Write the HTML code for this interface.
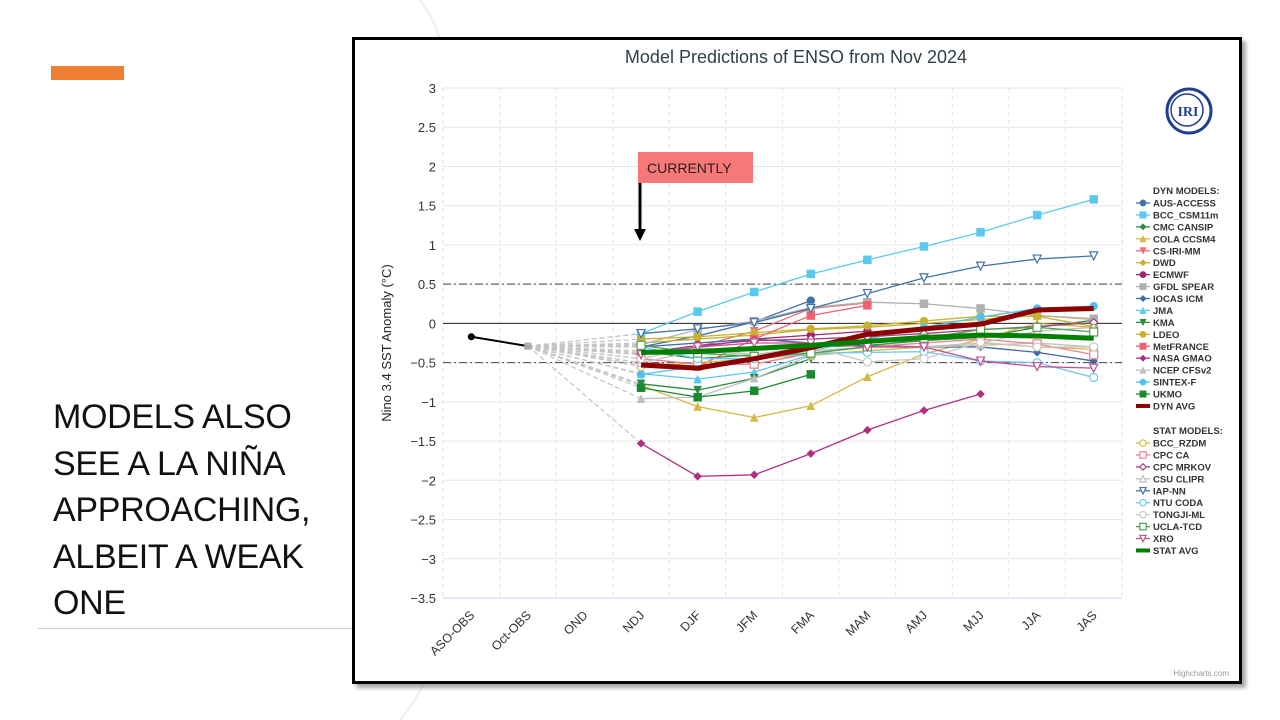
<!DOCTYPE html>
<html><head><meta charset="utf-8">
<style>
html,body{margin:0;padding:0;background:#fff;}
body{width:1280px;height:720px;position:relative;overflow:hidden;font-family:"Liberation Sans",sans-serif;}
#bar{position:absolute;left:51px;top:66px;width:73px;height:14px;background:#ef8033;}
#headline{position:absolute;left:53px;top:394px;font-size:34px;line-height:46.5px;color:#111;letter-spacing:-0.3px;}
#rule{position:absolute;left:38px;top:628px;width:316px;height:1px;background:#ccc;}
#frame{position:absolute;left:352px;top:37px;width:884px;height:641px;border:3px solid #000;background:#fff;box-shadow:4px 4px 4px rgba(0,0,0,0.35);}
svg{position:absolute;left:0;top:0;}
</style></head>
<body>
<svg width="1280" height="720"><path d="M420 0 Q470 60 470 360 Q470 640 400 720" fill="none" stroke="#eee" stroke-width="2"/></svg>
<div id="bar"></div>
<div id="headline">MODELS ALSO<br>SEE A LA NIÑA<br>APPROACHING,<br>ALBEIT A WEAK<br>ONE</div>
<div id="rule"></div>
<div id="frame"></div>
<svg id="chart" width="1280" height="720"></svg>
<script>
const categories=["ASO-OBS","Oct-OBS","OND","NDJ","DJF","JFM","FMA","MAM","AMJ","MJJ","JJA","JAS"];
const yTicks=[3,2.5,2,1.5,1,0.5,0,-0.5,-1,-1.5,-2,-2.5,-3,-3.5];
const obsValues=[-0.17,-0.29];
const modelNames=["AUS-ACCESS","BCC_CSM11m","CMC CANSIP","COLA CCSM4","CS-IRI-MM","DWD","ECMWF","GFDL SPEAR","IOCAS ICM","JMA","KMA","LDEO","MetFRANCE","NASA GMAO","NCEP CFSv2","SINTEX-F","UKMO","DYN AVG","BCC_RZDM","CPC CA","CPC MRKOV","CSU CLIPR","IAP-NN","NTU CODA","TONGJI-ML","UCLA-TCD","XRO","STAT AVG"];
const modelColors=["#4572a7","#5bc8f0","#2e8b3e","#d4b94a","#f06c7a","#c8b030","#a0286a","#b0b0b0","#3d6aa8","#5bc8f0","#2e8b3e","#c8b030","#f06070","#b03080","#c0c0c0","#50c0f0","#1a8a30","#8b0000","#d4c040","#f08090","#a04080","#c0c0c0","#4572a7","#6cc8f0","#c8c8c8","#50a050","#c05090","#008000"];
const modelMarkers=["circle","square","diamond","triangle","tridown","diamond","circle","square","diamond","triangle","tridown","circle","square","diamond","triangle","circle","square","line","circle","square","diamond","triangle","tridown","circle","circle","square","tridown","line"];
// values from NDJ to JAS
const v_aus=[-0.3,-0.16,0.02,0.29];
const v_bcc=[-0.13,0.15,0.4,0.63,0.81,0.98,1.16,1.38,1.58];
const v_cmc=[-0.35,-0.45,-0.4,-0.3,-0.28,-0.22,-0.18,-0.05,0.04];
const v_cola=[-0.79,-1.06,-1.2,-1.05,-0.68,-0.39,-0.2,0.0,-0.05];
const v_csiri=[-0.4,-0.3,-0.1,0.19,0.26];
const v_dwd=[-0.25,-0.2,-0.15,-0.08,-0.05,0.0,0.05,0.1,0.05];
const v_ecmwf=[-0.4,-0.3,-0.2,-0.15,-0.1];
const v_gfdl=[-0.27,-0.08,0.03,0.2,0.27,0.25,0.19,0.1,0.06];
const v_iocas=[-0.3,-0.25,-0.2,-0.25,-0.28,-0.3,-0.3,-0.37,-0.48];
const v_jma=[-0.64,-0.71,-0.62,-0.4];
const v_kma=[-0.77,-0.85,-0.7,-0.45];
const v_ldeo=[-0.2,-0.17,-0.12,-0.07,-0.03,0.03,0.09,0.09,-0.04];
const v_metf=[-0.5,-0.55,-0.2,0.1,0.23];
const v_nasa=[-1.53,-1.95,-1.93,-1.66,-1.36,-1.11,-0.9];
const v_ncep=[-0.96,-0.94,-0.7,-0.41,-0.35,-0.3,-0.28,-0.25,-0.3];
const v_sintex=[-0.65,-0.55,-0.45,-0.35,-0.2,-0.05,0.08,0.19,0.22];
const v_ukmo=[-0.82,-0.94,-0.86,-0.65];
const v_dynavg=[-0.53,-0.57,-0.45,-0.31,-0.14,-0.07,-0.01,0.17,0.19];
const v_rzdm=[-0.55,-0.5,-0.45,-0.4,-0.35,-0.3,-0.25,-0.3,-0.33];
const v_cpcca=[-0.45,-0.52,-0.52,-0.38,-0.3,-0.25,-0.2,-0.26,-0.4];
const v_mrkov=[-0.38,-0.28,-0.22,-0.2,-0.17,-0.13,-0.08,-0.04,0.01];
const v_csu=[-0.5,-0.35,-0.4,-0.35,-0.3,-0.3,-0.25,-0.1,-0.05];
const v_iap=[-0.13,-0.07,0.01,0.19,0.38,0.58,0.73,0.82,0.86];
const v_ntu=[-0.3,-0.45,-0.45,-0.38,-0.37,-0.36,-0.48,-0.5,-0.69];
const v_tongji=[-0.45,-0.3,-0.4,-0.3,-0.49,-0.45,-0.24,-0.3,-0.3];
const v_ucla=[-0.28,-0.38,-0.42,-0.38,-0.3,-0.19,-0.08,-0.05,-0.11];
const v_xro=[-0.4,-0.3,-0.25,-0.25,-0.3,-0.3,-0.48,-0.55,-0.57];
const v_statavg=[-0.37,-0.36,-0.32,-0.28,-0.23,-0.18,-0.15,-0.16,-0.19];
const modelValues=[v_aus,v_bcc,v_cmc,v_cola,v_csiri,v_dwd,v_ecmwf,v_gfdl,v_iocas,v_jma,v_kma,v_ldeo,v_metf,v_nasa,v_ncep,v_sintex,v_ukmo,v_dynavg,v_rzdm,v_cpcca,v_mrkov,v_csu,v_iap,v_ntu,v_tongji,v_ucla,v_xro,v_statavg];

const NS="http://www.w3.org/2000/svg";
const svg=document.getElementById('chart');
const L=443,R=1122,T=88,B=598,YMAX=3,YMIN=-3.5;
const step=(R-L)/categories.length;
function xs(i){return L+step*(i+0.5);}
function ys(v){return T+(YMAX-v)/(YMAX-YMIN)*(B-T);}
function mk(tag,attrs,parent){const e=document.createElementNS(NS,tag);for(const k in attrs)e.setAttribute(k,attrs[k]);(parent||svg).appendChild(e);return e;}
function txt(s,attrs,parent){const e=mk('text',attrs,parent);e.textContent=s;return e;}

let t=txt("Model Predictions of ENSO from Nov 2024",{x:796,y:63,'text-anchor':'middle','font-size':18,fill:'#2f3f48'});


yTicks.forEach(v=>{
  const g=mk('line',{x1:L,x2:R,y1:ys(v),y2:ys(v),stroke:'#e6e6e6','stroke-width':1});
  
  
  const l=txt(String(v).replace('-','−'),{x:436,y:ys(v)+5,'text-anchor':'end','font-size':13,fill:'#333'});
  
  
});
for(let i=0;i<=categories.length;i++){
  const g=mk('line',{x1:L+step*i,x2:L+step*i,y1:T,y2:B,stroke:'#e2e2e2','stroke-dasharray':'4,4'});
  
  
}
mk('line',{x1:L,x2:R,y1:B,y2:B,stroke:'#ccd6eb'});
categories.forEach((c,i)=>{
  const x=xs(i),y=B+12;
  const l=txt(c,{x:x+4,y:y+6,'text-anchor':'end','font-size':12.5,fill:'#333',transform:`rotate(-45 ${x+4} ${y+6})`});
  
  
});
let z=mk('line',{x1:L,x2:R,y1:ys(0),y2:ys(0),stroke:'#222','stroke-width':1});


[0.5,-0.5].forEach(v=>{
  const r=mk('line',{x1:L,x2:R,y1:ys(v),y2:ys(v),stroke:'#444','stroke-width':1,'stroke-dasharray':'8,3,2,3'});
  
  
});
let yt=txt("Nino 3.4 SST Anomaly (°C)",{x:391,y:343,'text-anchor':'middle','font-size':13,fill:'#222',transform:'rotate(-90 391 343)'});



function marker(type,x,y,color,hollow,parent,s){
  s=s||4;const fill=hollow?'#fff':color,sw=hollow?1.2:0.5;let e;
  if(type==='circle')e=mk('circle',{cx:x,cy:y,r:s,fill,stroke:color,'stroke-width':sw},parent);
  else if(type==='square')e=mk('rect',{x:x-s,y:y-s,width:2*s,height:2*s,fill,stroke:color,'stroke-width':sw},parent);
  else if(type==='diamond')e=mk('path',{d:`M${x} ${y-s}L${x+s} ${y}L${x} ${y+s}L${x-s} ${y}Z`,fill,stroke:color,'stroke-width':sw},parent);
  else if(type==='triangle')e=mk('path',{d:`M${x} ${y-s}L${x+s} ${y+s}L${x-s} ${y+s}Z`,fill,stroke:color,'stroke-width':sw},parent);
  else if(type==='tridown')e=mk('path',{d:`M${x-s} ${y-s}L${x+s} ${y-s}L${x} ${y+s}Z`,fill,stroke:color,'stroke-width':sw},parent);
  return e;
}
modelValues.forEach((vals,m)=>{
  const c=mk('line',{x1:xs(1),y1:ys(obsValues[1]),x2:xs(3),y2:ys(vals[0]),stroke:'#c4c4c4','stroke-width':1.2,'stroke-dasharray':'5,3'});
  
  
});
let op=mk('polyline',{points:obsValues.map((v,i)=>xs(i)+','+ys(v)).join(' '),fill:'none',stroke:'#000','stroke-width':2});


let om1=mk('circle',{cx:xs(0),cy:ys(obsValues[0]),r:3.5,fill:'#000'});


let om2=mk('rect',{x:xs(1)-3.5,y:ys(obsValues[1])-3.5,width:7,height:7,fill:'#aaa'});


const order=[...modelNames.keys()].filter(i=>modelMarkers[i]!=='line').concat([17,27]);
order.forEach(m=>{
  const g=mk('g',{});
  
  
  const vals=modelValues[m];const isAvg=modelMarkers[m]==='line';
  mk('polyline',{points:vals.map((v,i)=>xs(i+3)+','+ys(v)).join(' '),fill:'none',stroke:modelColors[m],'stroke-width':isAvg?5:1.3,'stroke-linejoin':'round'},g);
  if(!isAvg)vals.forEach((v,i)=>{marker(modelMarkers[m],xs(i+3),ys(v),modelColors[m],m>=18,g);});
});
let cb=mk('rect',{x:638,y:152,width:115,height:31,fill:'#f87878'});


txt("CURRENTLY",{x:647,y:173,'font-size':14,fill:'#222'});
let ar=mk('line',{x1:640,y1:183,x2:640,y2:230,stroke:'#000','stroke-width':3});


mk('path',{d:'M634 229L646 229L640 241Z',fill:'#000'});
let lg=mk('g',{});


mk('circle',{cx:1189,cy:111,r:22,fill:'none',stroke:'#1f3f8f','stroke-width':3},lg);
mk('circle',{cx:1187,cy:110,r:16,fill:'none',stroke:'#1f3f8f','stroke-width':1.5},lg);
txt("IRI",{x:1188,y:116,'text-anchor':'middle','font-size':14,'font-family':'Liberation Serif',fill:'#1f3f8f','font-weight':'bold'},lg);
const leg=mk('g',{});


txt("DYN MODELS:",{x:1153,y:194,'font-size':9.5,'font-weight':'bold',fill:'#333'},leg);
txt("STAT MODELS:",{x:1153,y:434,'font-size':9.5,'font-weight':'bold',fill:'#333'},leg);
modelNames.forEach((n,m)=>{
  const y=m<18?203+m*11.94:443+(m-18)*11.94;
  const e=mk('g',{},leg);
  
  
  const isAvg=modelMarkers[m]==='line';
  mk('line',{x1:1136,x2:1150,y1:y,y2:y,stroke:modelColors[m],'stroke-width':isAvg?4:1.3},e);
  if(!isAvg)marker(modelMarkers[m],1143,y,modelColors[m],m>=18,e,3.2);
  txt(n,{x:1153,y:y+3.5,'font-size':9.5,'font-weight':'bold',fill:'#333'},e);
});
txt("Highcharts.com",{x:1229,y:676,'text-anchor':'end','font-size':8,fill:'#999'});
</script>
</body></html>
